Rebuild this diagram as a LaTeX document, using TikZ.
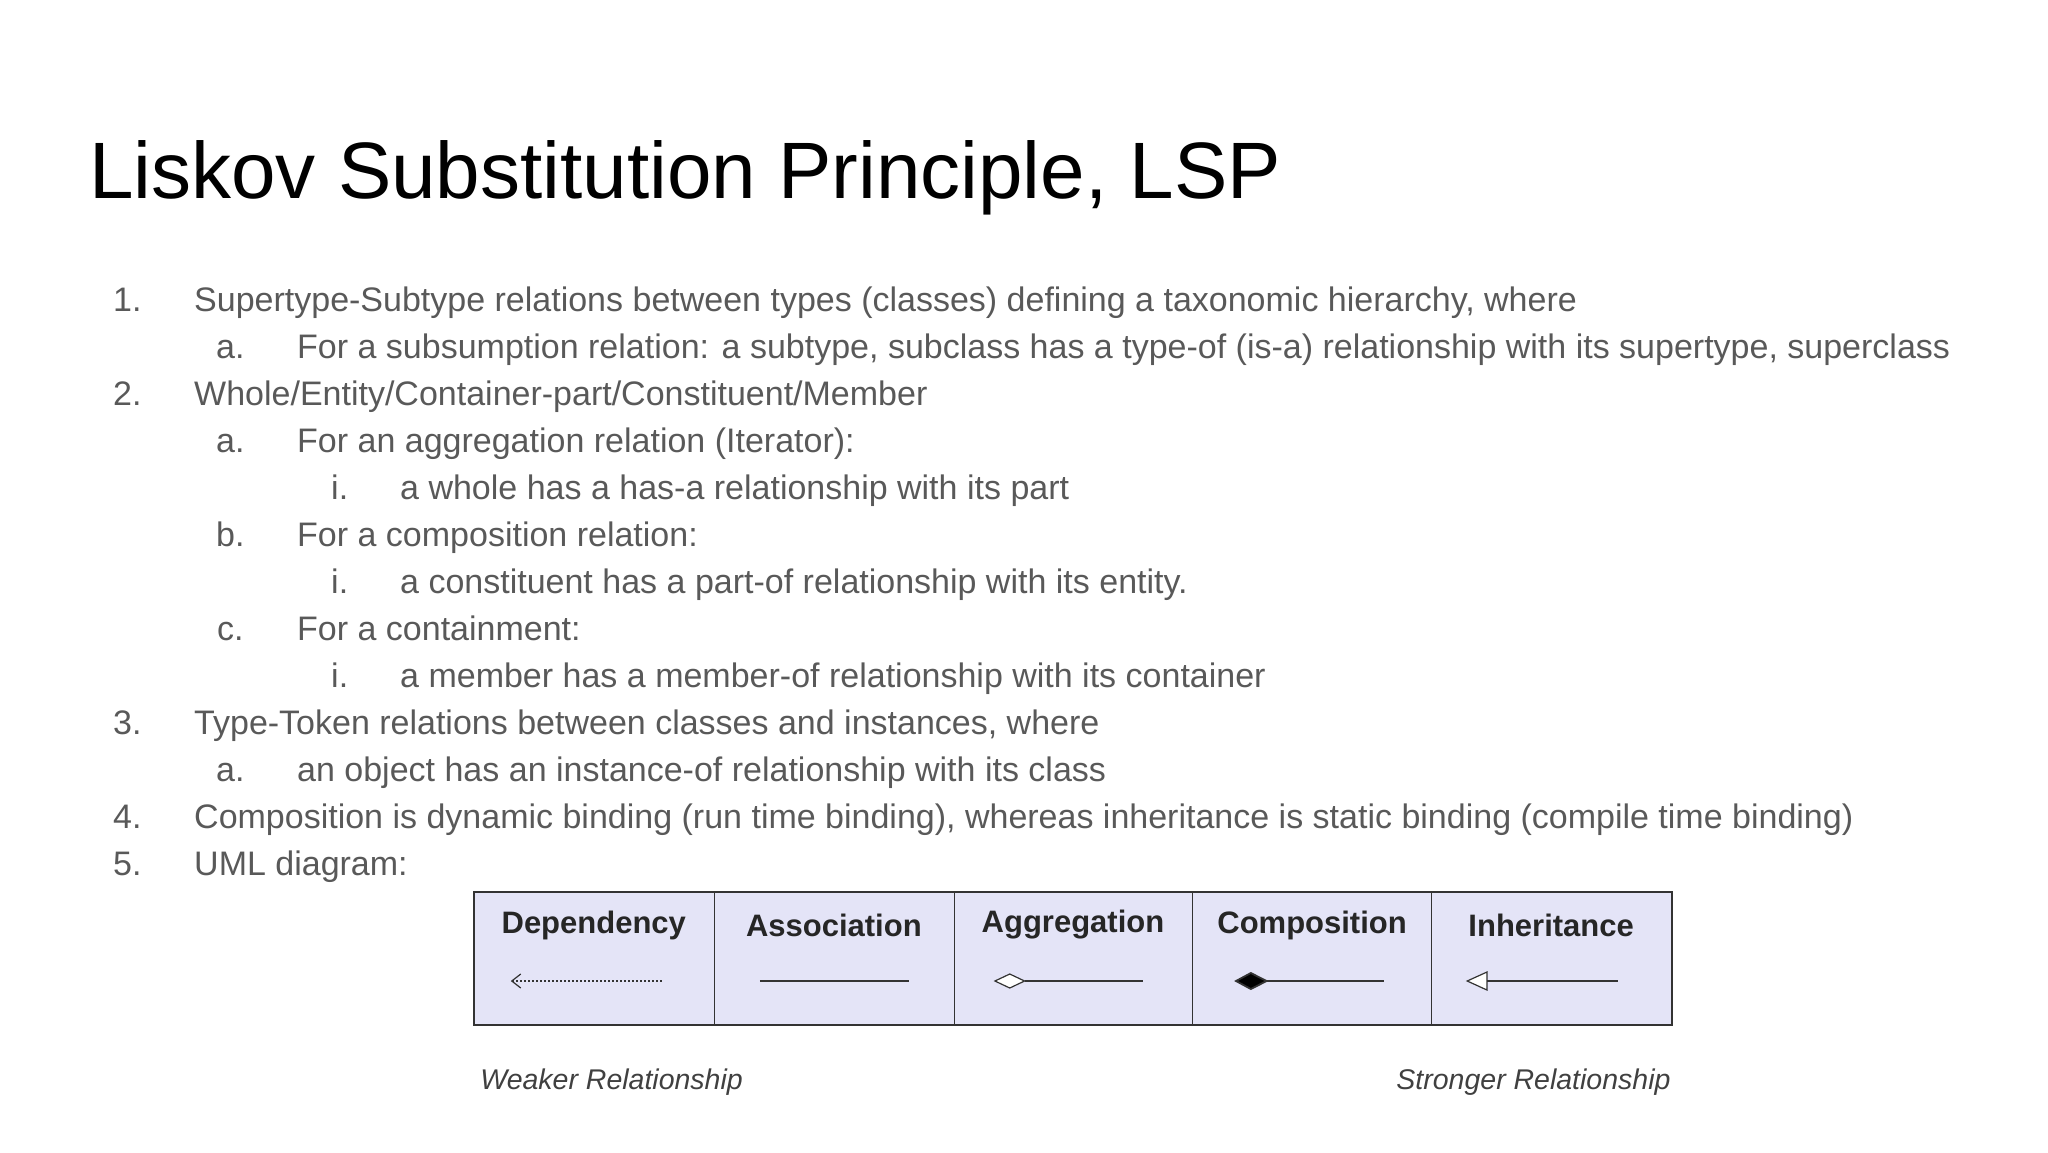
\documentclass[tikz,border=0pt]{standalone}
\usepackage{fontspec}
\setmainfont{Liberation Sans}
\usetikzlibrary{arrows.meta}
\definecolor{txt}{HTML}{595959}
\definecolor{cellbg}{HTML}{E4E4F7}
\tikzset{
  line/.style={anchor=base west,text=txt,font=\fontsize{34}{40}\selectfont,inner sep=0pt},
  head/.style={anchor=center,font=\fontsize{31}{36}\selectfont\bfseries,text=black!85,inner sep=0pt},
  cell/.style={draw=black!80,line width=1.6pt,fill=cellbg},
  rel/.style={line width=1.8pt,black!80},
  foot/.style={font=\fontsize{28.5}{34}\selectfont\itshape,text=black!75,inner sep=0pt}
}
\begin{document}
\begin{tikzpicture}[x=1pt,y=-1pt]
\useasboundingbox (0,0) rectangle (2048,1152);
\node[anchor=base west,inner sep=0pt,font=\fontsize{80}{94}\selectfont] (title) at (89,198) {Liskov Substitution Principle, LSP};
% rows
\def\yy#1{311+47*#1}
\node[line] (n1) at (113,{\yy0}) {1.}; \node[line] (t1) at (194,{\yy0}) {Supertype-Subtype relations between types (classes) defining a taxonomic hierarchy, where};
\node[line] (n1a) at (216,{\yy1}) {a.}; \node[line] (t1a) at (297,{\yy1}) {For a subsumption relation: a subtype, subclass has a type-of (is-a) relationship with its supertype, superclass};
\node[line] (n2) at (113,{\yy2}) {2.}; \node[line] (t2) at (194,{\yy2}) {Whole/Entity/Container-part/Constituent/Member};
\node[line] (n2a) at (216,{\yy3}) {a.}; \node[line] (t2a) at (297,{\yy3}) {For an aggregation relation (Iterator):};
\node[line] (n2ai) at (331,{\yy4}) {i.}; \node[line] (t2ai) at (400,{\yy4}) {a whole has a has-a relationship with its part};
\node[line] (n2b) at (216,{\yy5}) {b.}; \node[line] (t2b) at (297,{\yy5}) {For a composition relation:};
\node[line] (n2bi) at (331,{\yy6}) {i.}; \node[line] (t2bi) at (400,{\yy6}) {a constituent has a part-of relationship with its entity.};
\node[line] (n2c) at (217,{\yy7}) {c.}; \node[line] (t2c) at (297,{\yy7}) {For a containment:};
\node[line] (n2ci) at (331,{\yy8}) {i.}; \node[line] (t2ci) at (400,{\yy8}) {a member has a member-of relationship with its container};
\node[line] (n3) at (113,{\yy9}) {3.}; \node[line] (t3) at (194,{\yy9}) {Type-Token relations between classes and instances, where};
\node[line] (n3a) at (216,{\yy{10}}) {a.}; \node[line] (t3a) at (297,{\yy{10}}) {an object has an instance-of relationship with its class};
\node[line] (n4) at (113,{\yy{11}}) {4.}; \node[line] (t4) at (194,{\yy{11}}) {Composition is dynamic binding (run time binding), whereas inheritance is static binding (compile time binding)};
\node[line] (n5) at (113,{\yy{12}}) {5.}; \node[line] (t5) at (194,{\yy{12}}) {UML diagram:};
% table
\begin{scope}[shift={(0,-11)},xscale=0.988]
\foreach \a/\b in {480/723,723/966,966/1207,1207/1449,1449/1692}{
  \draw[cell] (\a,903) rectangle (\b,1036);
}
\node[head] (h1) at (601,936) {Dependency};
\node[head] (h2) at (844,936) {Association};
\node[head] (h3) at (1086,936) {Aggregation};
\node[head] (h4) at (1328,936) {Composition};
\node[head] (h5) at (1570,936) {Inheritance};
\coordinate (d1) at (517,992); \coordinate (d2) at (670,992);
\draw[rel,line width=1.2pt,dash pattern=on 2pt off 2pt,-{Straight Barb[length=9pt,width=14pt,line width=1.2pt]}] (d2) -- (d1);
\coordinate (a1) at (769,992); \coordinate (a2) at (920,992);
\draw[rel] (a1) -- (a2);
\draw[rel,fill=white,line width=1.2pt] (1007,992) -- (1022,985) -- (1037,992) -- (1022,999) -- cycle;
\coordinate (g2) at (1157,992); \draw[rel] (1037,992) -- (g2);
\draw[rel,fill=black] (1251,992) -- (1266,984) -- (1282,992) -- (1266,1000) -- cycle;
\coordinate (k2) at (1401,992); \draw[rel] (1282,992) -- (k2);
\draw[rel,fill=white,line width=1.2pt] (1485,992) -- (1505,983) -- (1505,1001) -- cycle;
\coordinate (i2) at (1638,992); \draw[rel] (1505,992) -- (i2);
\node[foot,anchor=west] (w) at (486,1093) {Weaker Relationship};
\node[foot,anchor=east] (s) at (1691,1093) {Stronger Relationship};
\end{scope}
\end{tikzpicture}
\end{document}
